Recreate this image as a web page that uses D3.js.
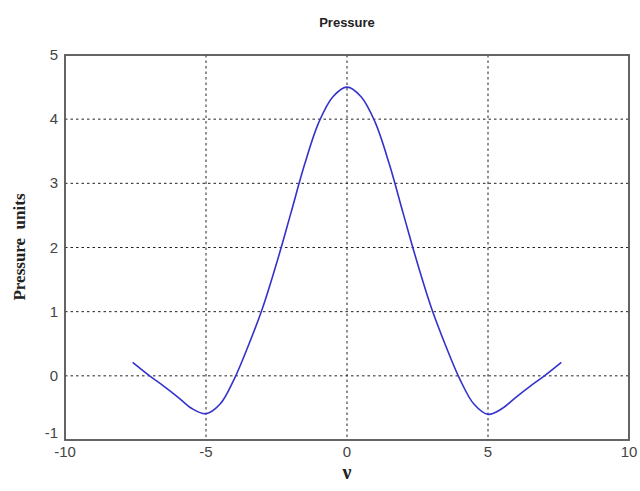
<!DOCTYPE html>
<html>
<head>
<meta charset="utf-8">
<script src="https://cdn.jsdelivr.net/npm/d3@7"></script>
<style>
  html, body { margin: 0; padding: 0; background: #fff; }
  svg { display: block; }
</style>
</head>
<body>
<svg id="chart" width="640" height="491"></svg>
<script>
// Pressure profile sampled along nu
const nuValues = [-7.6, -7, -6.5, -6, -5.5, -5, -4.5, -4, -3.5, -3, -2.5, -2, -1.5, -1, -0.5, 0,
                  0.5, 1, 1.5, 2, 2.5, 3, 3.5, 4, 4.5, 5, 5.5, 6, 6.5, 7, 7.6];
const pressureValues = [0.21, 0.0, -0.16, -0.33, -0.51, -0.59, -0.44, -0.05, 0.47, 1.05, 1.75, 2.52, 3.3, 3.95, 4.35, 4.5,
                        4.35, 3.95, 3.3, 2.52, 1.75, 1.05, 0.47, -0.05, -0.44, -0.6, -0.51, -0.33, -0.16, 0.0, 0.21];
const xTicks = [-10, -5, 0, 5, 10];
const yTicks = [-1, 0, 1, 2, 3, 4, 5];

const svg = d3.select("#chart");
const plotLeft = 65, plotRight = 629, plotTop = 55, plotBottom = 440;

const x = d3.scaleLinear().domain([-10, 10]).range([plotLeft, plotRight]);
const y = d3.scaleLinear().domain([-1, 5]).range([plotBottom, plotTop]);

// dotted grid
const grid = svg.append("g").attr("stroke", "#222").attr("stroke-width", 1)
  .attr("stroke-dasharray", "2.5,3");
grid.selectAll("line.v").data(xTicks.slice(1, -1)).join("line")
  .attr("class", "v")
  .attr("x1", d => x(d)).attr("x2", d => x(d))
  .attr("y1", plotTop).attr("y2", plotBottom);
grid.selectAll("line.h").data(yTicks.slice(1, -1)).join("line")
  .attr("class", "h")
  .attr("x1", plotLeft).attr("x2", plotRight)
  .attr("y1", d => y(d)).attr("y2", d => y(d));

// curve
const pts = nuValues.map((v, i) => [v, pressureValues[i]]);
svg.append("path")
  .datum(pts)
  .attr("fill", "none")
  .attr("stroke", "#3333cc")
  .attr("stroke-width", 1.6)
  .attr("d", d3.line().x(d => x(d[0])).y(d => y(d[1])).curve(d3.curveCatmullRom.alpha(0.5)));

// axis box
svg.append("rect")
  .attr("x", plotLeft).attr("y", plotTop)
  .attr("width", plotRight - plotLeft).attr("height", plotBottom - plotTop)
  .attr("fill", "none").attr("stroke", "#555").attr("stroke-width", 1.8);

// tick labels
const tickFont = "'Liberation Sans', Arial, sans-serif";
svg.append("g").selectAll("text").data(xTicks).join("text")
  .attr("x", d => x(d)).attr("y", 457)
  .attr("text-anchor", "middle")
  .attr("font-family", tickFont).attr("font-size", 15).attr("fill", "#444")
  .text(d => d);
// the lowest label sits a little higher so it clears the x labels
svg.append("g").selectAll("text").data(yTicks).join("text")
  .attr("x", 58).attr("y", d => (d === yTicks[0] ? y(d) - 2 : y(d) + 5))
  .attr("text-anchor", "end")
  .attr("font-family", tickFont).attr("font-size", 15).attr("fill", "#444")
  .text(d => d);

// title and axis labels
svg.append("text")
  .attr("x", 347).attr("y", 27)
  .attr("text-anchor", "middle")
  .attr("font-family", tickFont).attr("font-weight", "bold").attr("font-size", 13).attr("fill", "#222")
  .text("Pressure");

svg.append("text")
  .attr("transform", "translate(25,247) rotate(-90)")
  .attr("text-anchor", "middle")
  .attr("font-family", "'Liberation Serif', 'Times New Roman', serif")
  .attr("font-weight", "bold").attr("font-size", 17).attr("fill", "#222")
  .style("white-space", "pre")
  .text("Pressure  units");

svg.append("text")
  .attr("x", 347).attr("y", 479)
  .attr("text-anchor", "middle")
  .attr("font-family", "'Liberation Serif', 'Times New Roman', serif")
  .attr("font-weight", "bold").attr("font-size", 20).attr("fill", "#222")
  .text("ν");
</script>
</body>
</html>
